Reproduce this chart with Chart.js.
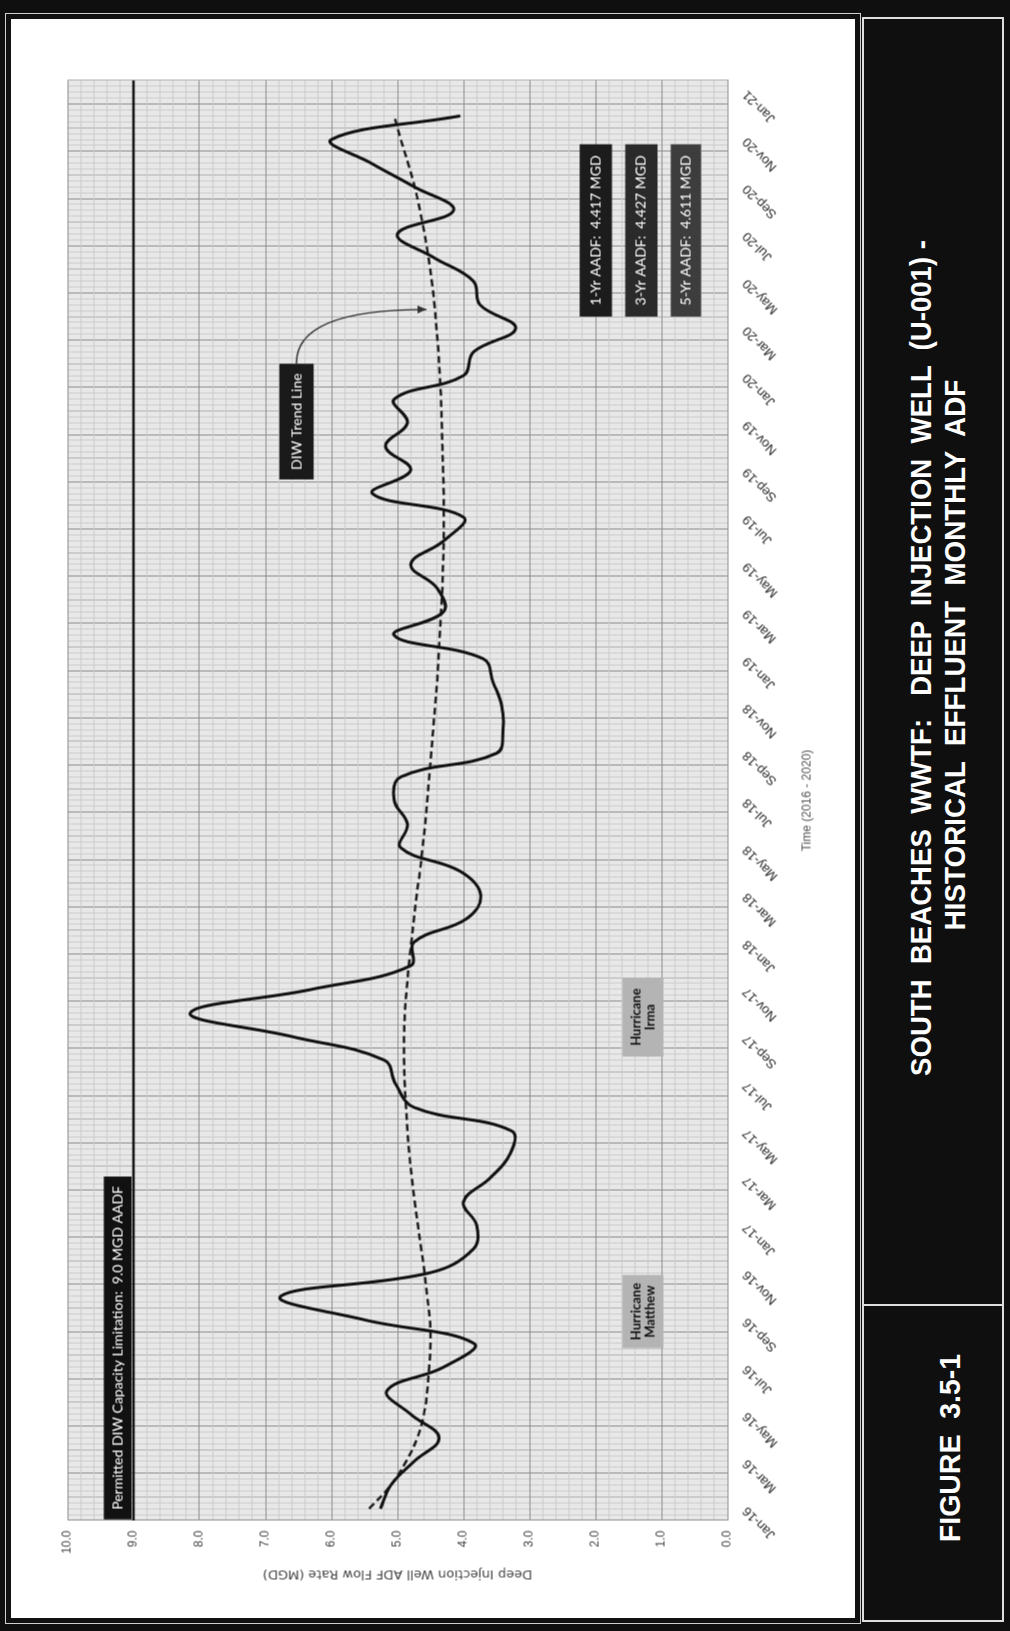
<!DOCTYPE html>
<html><head><meta charset="utf-8">
<script src="https://cdn.jsdelivr.net/npm/chart.js@4"></script>
<style>
html,body{margin:0;padding:0;background:#0f0f0f;}
#page{position:relative;width:1010px;height:1631px;background:#0f0f0f;overflow:hidden;}
#wline{position:absolute;left:5px;top:13px;width:854px;height:1609px;border:1px solid #cfcfcf;}
#white{position:absolute;left:7px;top:15px;width:844px;height:1599px;border:4px solid #111;background:#fff;}
#rot{position:absolute;left:-364.5px;top:393.5px;width:1600px;height:851px;transform:rotate(-90deg);transform-origin:50% 50%;}
#panel{position:absolute;left:862px;top:17px;width:138px;height:1601px;border:2px solid #dedede;}
#divider{position:absolute;left:862px;top:1304px;width:142px;height:2px;background:#dedede;}
.tt{position:absolute;color:#fff;font:bold 30px "Liberation Sans",Arial,sans-serif;white-space:pre;transform-origin:50% 50%;}
</style></head>
<body><div id="page">
<div id="wline"></div>
<div id="white"></div>
<div id="rot"><canvas id="c" width="1600" height="851"></canvas></div>
<div id="panel"></div>
<div id="divider"></div>
<div class="tt" id="t1">SOUTH  BEACHES  WWTF:   DEEP  INJECTION  WELL  (U-001) -</div>
<div class="tt" id="t2">HISTORICAL  EFFLUENT  MONTHLY  ADF</div>
<div class="tt" id="t3">FIGURE  3.5-1</div>
</div>
<script>
// ---------------- data ----------------
const months = ['Jan-16','Feb-16','Mar-16','Apr-16','May-16','Jun-16','Jul-16','Aug-16','Sep-16','Oct-16','Nov-16','Dec-16',
 'Jan-17','Feb-17','Mar-17','Apr-17','May-17','Jun-17','Jul-17','Aug-17','Sep-17','Oct-17','Nov-17','Dec-17',
 'Jan-18','Feb-18','Mar-18','Apr-18','May-18','Jun-18','Jul-18','Aug-18','Sep-18','Oct-18','Nov-18','Dec-18',
 'Jan-19','Feb-19','Mar-19','Apr-19','May-19','Jun-19','Jul-19','Aug-19','Sep-19','Oct-19','Nov-19','Dec-19',
 'Jan-20','Feb-20','Mar-20','Apr-20','May-20','Jun-20','Jul-20','Aug-20','Sep-20','Oct-20','Nov-20','Dec-20','Jan-21'];
const flow = [5.26,5.10,4.75,4.37,4.80,5.16,4.30,3.84,5.50,6.77,4.50,3.85,
 3.80,4.00,3.60,3.30,3.27,4.75,5.03,5.20,6.60,8.14,6.30,4.80,
 4.75,3.95,3.74,4.05,4.95,4.85,5.05,4.95,3.50,3.40,3.42,3.55,
 3.70,5.05,4.30,4.40,4.80,4.30,4.00,5.38,4.80,5.18,4.85,5.05,
 4.00,3.85,3.21,3.75,3.85,4.45,5.00,4.15,4.75,5.40,6.00,4.05];
const trend = [5.43,5.10,4.87,4.70,4.60,4.55,4.52,4.50,4.51,4.55,4.59,4.64,
 4.69,4.74,4.78,4.82,4.85,4.87,4.89,4.90,4.90,4.89,4.86,4.83,
 4.79,4.75,4.71,4.66,4.62,4.58,4.55,4.52,4.49,4.46,4.43,4.40,
 4.38,4.36,4.34,4.32,4.31,4.30,4.30,4.30,4.31,4.32,4.33,4.34,
 4.36,4.38,4.41,4.44,4.48,4.53,4.59,4.66,4.74,4.84,4.95,5.05];
const capacityLimit = 9.0;
const valueMin = 0, valueMax = 10;
const limitLabel = 'Permitted DIW Capacity Limitation:  9.0 MGD AADF';
const aadfLabels = ['1-Yr AADF:  4.417 MGD','3-Yr AADF:  4.427 MGD','5-Yr AADF:  4.611 MGD'];
const hurricaneLabels = [['Hurricane','Matthew'],['Hurricane','Irma']];
const trendLabel = 'DIW Trend Line';

// ---------------- layout of annotations (data coords) ----------------
const boxes = [
 {m:[-0.45,14.07], v:[9.03,9.45], fill:'#111', color:'#fff', font:'14px Lato, sans-serif', lines:[limitLabel]},
 {m:[6.8,9.9], v:[0.97,1.59], fill:'#b4b4b4', color:'#111', font:'bold 13px Lato, sans-serif', lines:hurricaneLabels[0]},
 {m:[19.15,22.5], v:[0.97,1.59], fill:'#b4b4b4', color:'#111', font:'bold 13px Lato, sans-serif', lines:hurricaneLabels[1]},
 {m:[43.6,48.5], v:[6.27,6.79], fill:'#1a1a1a', color:'#fff', font:'14px Lato, sans-serif', lines:[trendLabel]},
 {m:[50.5,57.8], v:[1.75,2.24], fill:'#1c1c1c', color:'#fff', font:'14px Lato, sans-serif', lines:[aadfLabels[0]]},
 {m:[50.5,57.8], v:[1.06,1.55], fill:'#2a2a2a', color:'#fff', font:'14px Lato, sans-serif', lines:[aadfLabels[1]]},
 {m:[50.5,57.8], v:[0.40,0.86], fill:'#3d3d3d', color:'#fff', font:'14px Lato, sans-serif', lines:[aadfLabels[2]]}
];

const major='#8c8c8c', mid='#b0b0b0', minor='#cbcbcb';
const near=(a,b)=>Math.abs(a-b)<1e-9;

const bgPlugin={id:'bg',beforeDraw(ch){const {ctx,chartArea:a}=ch;ctx.save();ctx.fillStyle='#e8e8e8';ctx.fillRect(a.left,a.top,a.width,a.height);ctx.restore();}};
const annPlugin={id:'ann',afterDatasetsDraw(ch){
  const ctx=ch.ctx,xs=ch.scales.x,ys=ch.scales.y;
  ctx.save();
  boxes.forEach(b=>{
    const L=xs.getPixelForValue(b.m[0]),R=xs.getPixelForValue(b.m[1]);
    const T=ys.getPixelForValue(b.v[1]),B=ys.getPixelForValue(b.v[0]);
    ctx.fillStyle=b.fill;ctx.fillRect(L,T,R-L,B-T);
    ctx.fillStyle=b.color;ctx.font=b.font;ctx.textAlign='center';ctx.textBaseline='middle';
    const n=b.lines.length;
    b.lines.forEach((t,i)=>ctx.fillText(t,(L+R)/2,(T+B)/2+(i-(n-1)/2)*14,R-L-10));
  });
  // arrow from trend label to trend line
  const p0=[xs.getPixelForValue(48.5),ys.getPixelForValue(6.53)];
  const pc=[xs.getPixelForValue(50.8),ys.getPixelForValue(6.55)];
  const p1=[xs.getPixelForValue(50.8),ys.getPixelForValue(4.56)];
  ctx.strokeStyle='#333';ctx.lineWidth=1.3;
  ctx.beginPath();ctx.moveTo(p0[0],p0[1]);ctx.quadraticCurveTo(pc[0],pc[1],p1[0],p1[1]);ctx.stroke();
  ctx.fillStyle='#333';ctx.beginPath();ctx.moveTo(p1[0],p1[1]);ctx.lineTo(p1[0]-4,p1[1]-9);ctx.lineTo(p1[0]+4,p1[1]-9);ctx.closePath();ctx.fill();
  ctx.restore();
}};

new Chart(document.getElementById('c'),{
  type:'line',
  data:{datasets:[
    {data:flow.map((v,i)=>({x:i,y:v})),borderColor:'#111',borderWidth:3,pointRadius:0,tension:0.4,fill:false},
    {data:trend.map((v,i)=>({x:i,y:v})),borderColor:'#1e1e1e',borderWidth:2.5,borderDash:[7,4],pointRadius:0,tension:0.4,fill:false},
    {data:[{x:-0.5,y:capacityLimit},{x:months.length-0.5,y:capacityLimit}],borderColor:'#111',borderWidth:2.5,pointRadius:0,fill:false}
  ]},
  options:{
    responsive:false,animation:false,
    layout:{padding:{left:34,top:57,right:61,bottom:41}},
    plugins:{legend:{display:false},tooltip:{enabled:false}},
    scales:{
      x:{type:'linear',position:'bottom',min:-0.5,max:months.length-0.5,
        afterBuildTicks(s){const t=[];for(let k=0;k<=(months.length)*4;k++)t.push({value:-0.5+k*0.25});s.ticks=t;},
        afterFit(s){s.height=93;},
        ticks:{autoSkip:false,minRotation:45,maxRotation:45,padding:12,color:'#2a2a2a',font:{family:'"Liberation Sans", Arial',size:13},
          callback(v){return (v>=0&&Number.isInteger(v)&&v%2===0)?months[v]:'';}},
        grid:{drawTicks:false,lineWidth:1,color(c){const r=c.tick.value+0.5;if(near(r/2,Math.round(r/2)))return major;if(near(r,Math.round(r)))return mid;return minor;}},
        border:{display:true,color:'#8e8e8e'},
        title:{display:true,text:'Time (2016 - 2020)',color:'#555',font:{family:'"Liberation Sans", Arial',size:12},padding:{top:2,bottom:6}}
      },
      y:{type:'linear',position:'left',min:valueMin,max:valueMax,
        afterBuildTicks(s){const t=[];for(let k=0;k<=50;k++)t.push({value:k/5});s.ticks=t;},
        afterFit(s){s.width=65;},
        ticks:{autoSkip:false,padding:10,color:'#444',font:{family:'"Liberation Sans", Arial',size:12},
          callback(v){return near(v,Math.round(v))?v.toFixed(1):'';}},
        grid:{drawTicks:false,color(c){const v=c.tick.value;return near(v,Math.round(v))?major:minor;}},
        border:{display:true,color:'#8e8e8e'},
        title:{display:true,text:'Deep Injection Well ADF Flow Rate (MGD)',color:'#444',font:{family:'"DejaVu Sans", sans-serif',size:13},padding:{top:4,bottom:4}}
      }
    }
  },
  plugins:[bgPlugin,annPlugin]
});

function place(id,cx,cy,len){
  const el=document.getElementById(id);
  const w=el.offsetWidth,h=el.offsetHeight;
  el.style.left=(cx-w/2)+'px';el.style.top=(cy-h/2)+'px';
  el.style.transform='rotate(-90deg) scaleX('+(len/w)+')';
}
place('t1',921,658,836);
place('t2',955,655,550);
place('t3',950,1448,188);
</script>
</body></html>
